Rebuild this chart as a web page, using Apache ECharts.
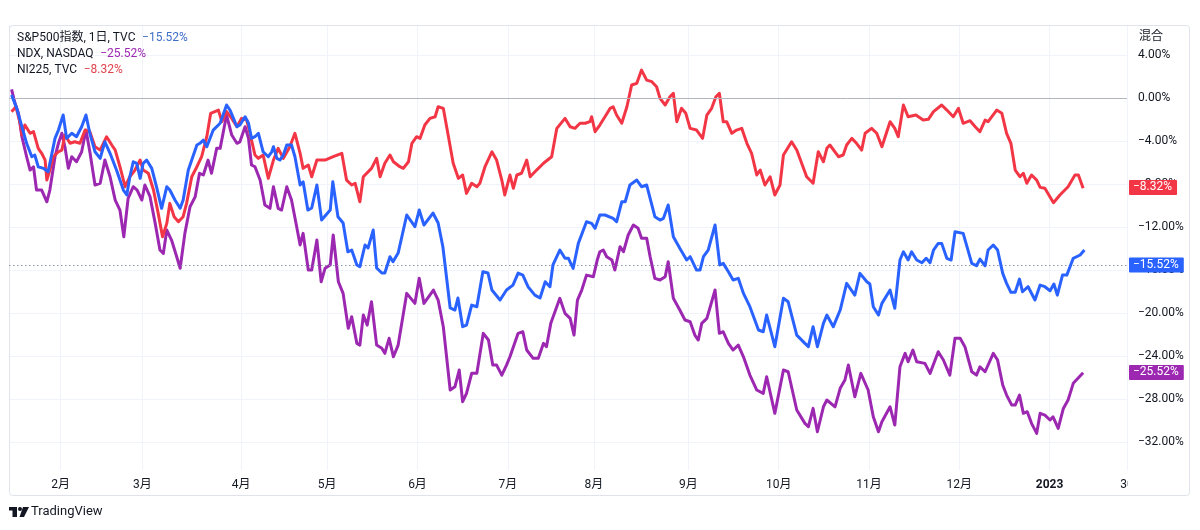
<!DOCTYPE html>
<html><head><meta charset="utf-8">
<script src="https://cdn.jsdelivr.net/npm/echarts@6/dist/echarts.min.js"></script>
<style>html,body{margin:0;padding:0;background:#fff}#c{width:1200px;height:530px}</style>
</head><body><div id="c"></div>
<script>
// x = trading-day index from start of 2022 (0..260), y = % change
const monthTicks = [12, 31, 54, 74, 95, 116, 136, 158, 179, 200, 221, 242, 260];
const monthLabels = ['2月','3月','4月','5月','6月','7月','8月','9月','10月','11月','12月','2023','30'];
const priceTicks = [4, 0, -4, -8, -12, -16, -20, -24, -28, -32];
const seriesNames = ['S&P500指数, 1日, TVC', 'NDX, NASDAQ', 'NI225, TVC'];
const lastValues = [-15.52, -25.52, -8.32];

const spx = [[0.6,0.28],[1.8,-0.96],[3.0,-2.67],[4.1,-4.21],[5.3,-5.46],[6.0,-5.30],[6.8,-6.39],[8.0,-6.54],[9.1,-6.86],[9.5,-6.70],[10.7,-3.75],[11.5,-2.98],[12.6,-1.58],[13.4,-3.75],[14.6,-3.28],[15.7,-3.60],[16.9,-2.67],[17.9,-1.58],[18.8,-3.28],[20.0,-5.00],[21.2,-5.61],[22.3,-4.07],[23.5,-5.14],[25.0,-6.70],[26.6,-8.56],[27.4,-9.02],[28.1,-7.32],[28.9,-5.93],[29.7,-6.07],[30.5,-7.47],[31.2,-6.07],[32.0,-5.77],[33.2,-6.54],[34.3,-8.25],[35.5,-10.26],[35.9,-10.42],[36.7,-8.25],[37.4,-8.56],[38.6,-9.49],[39.8,-10.26],[40.5,-9.49],[41.7,-6.70],[42.5,-5.77],[43.7,-4.37],[44.4,-4.21],[45.2,-3.91],[46.0,-4.53],[47.5,-2.98],[49.1,-2.35],[50.6,-0.65],[51.4,-1.12],[52.2,-1.89],[53.0,-2.67],[53.7,-2.51],[54.9,-1.74],[55.7,-2.35],[56.4,-3.75],[57.2,-3.60],[58.0,-3.28],[59.1,-5.00],[60.3,-5.46],[61.1,-5.00],[61.5,-4.53],[62.3,-5.61],[63.0,-5.77],[63.8,-5.30],[64.6,-4.37],[65.7,-4.37],[66.5,-5.46],[67.7,-8.09],[68.4,-7.79],[69.5,-10.42],[70.4,-10.23],[71.6,-8.09],[72.7,-11.35],[74.7,-10.42],[75.3,-7.79],[76.5,-11.04],[77.7,-11.63],[78.8,-14.30],[79.7,-14.14],[80.9,-15.53],[81.6,-15.69],[82.8,-13.67],[83.5,-13.95],[84.7,-12.28],[85.5,-15.81],[86.7,-16.28],[87.4,-16.28],[88.6,-14.76],[89.3,-15.23],[90.5,-14.42],[92.5,-10.88],[94.4,-11.97],[95.4,-10.42],[96.5,-11.81],[98.6,-10.70],[99.8,-11.63],[100.9,-13.83],[102.6,-19.53],[103.7,-19.72],[104.4,-18.60],[105.5,-21.27],[106.4,-21.12],[107.6,-19.26],[108.8,-19.41],[110.2,-16.16],[111.4,-16.28],[112.3,-17.86],[114.2,-18.79],[115.7,-17.86],[117.2,-17.40],[118.4,-16.28],[119.5,-16.47],[120.7,-17.55],[122.3,-18.33],[123.5,-18.60],[124.7,-17.09],[125.8,-17.55],[126.5,-15.53],[128.1,-14.14],[129.3,-14.91],[130.1,-14.91],[131.2,-15.84],[132.4,-13.52],[134.3,-11.51],[135.5,-11.66],[136.3,-12.12],[137.4,-10.88],[138.6,-10.88],[140.5,-11.19],[141.3,-11.51],[142.5,-9.65],[143.3,-9.65],[144.4,-8.09],[146.0,-7.63],[147.1,-8.25],[148.3,-8.09],[150.2,-11.04],[151.4,-11.35],[152.2,-11.19],[153.3,-9.95],[154.5,-12.90],[156.0,-13.98],[157.6,-15.07],[158.4,-14.76],[159.9,-16.00],[160.7,-16.00],[161.5,-14.76],[162.6,-14.14],[164.2,-11.81],[165.3,-15.53],[166.1,-15.38],[167.3,-16.16],[168.4,-16.93],[169.6,-16.77],[170.8,-18.17],[172.3,-19.41],[174.3,-21.58],[175.4,-21.74],[176.2,-20.19],[178.1,-23.13],[180.1,-18.63],[181.2,-18.95],[183.2,-22.05],[185.1,-22.82],[185.9,-23.13],[187.0,-21.27],[188.0,-23.13],[189.4,-20.96],[190.2,-20.19],[191.7,-21.27],[193.3,-19.72],[194.8,-17.24],[196.7,-18.33],[197.9,-16.31],[199.5,-17.09],[200.2,-17.30],[201.0,-19.41],[202.2,-20.19],[203.0,-19.10],[204.9,-17.86],[206.0,-19.56],[207.2,-15.07],[208.0,-14.30],[209.1,-15.07],[209.9,-14.30],[211.1,-15.07],[212.3,-15.32],[213.3,-14.91],[214.2,-15.32],[215.0,-14.14],[216.1,-13.52],[216.9,-13.52],[218.1,-14.91],[219.1,-15.07],[220.0,-12.44],[221.9,-12.59],[223.9,-15.38],[225.0,-15.60],[225.8,-14.98],[227.0,-15.60],[227.7,-14.14],[228.9,-13.67],[229.9,-14.14],[231.1,-16.31],[232.0,-17.24],[233.0,-18.07],[234.0,-18.07],[235.0,-16.84],[235.7,-18.02],[237.0,-17.55],[238.6,-18.79],[239.8,-17.40],[240.9,-17.55],[242.1,-17.93],[243.0,-17.30],[243.8,-18.33],[245.0,-16.47],[246.0,-16.47],[247.5,-14.91],[249.1,-14.60],[250.1,-14.14]];

const ndx = [[0.6,0.81],[1.4,-0.49],[2.2,-1.42],[3.0,-3.60],[4.1,-5.46],[4.9,-6.70],[5.7,-6.39],[6.4,-8.56],[7.6,-8.56],[8.8,-9.65],[9.5,-8.56],[10.7,-5.46],[11.5,-4.21],[12.3,-3.28],[13.0,-4.53],[13.8,-6.54],[14.6,-5.46],[15.7,-5.93],[16.9,-5.00],[17.9,-2.98],[18.8,-5.00],[20.0,-8.09],[21.2,-7.93],[22.3,-5.77],[23.5,-7.32],[24.7,-9.49],[25.8,-10.42],[26.7,-12.90],[27.7,-9.33],[28.9,-8.25],[29.8,-8.56],[30.9,-9.49],[31.6,-8.09],[32.8,-9.18],[34.0,-11.66],[35.1,-14.14],[35.9,-14.45],[36.7,-12.28],[37.8,-13.21],[39.0,-14.76],[39.8,-15.84],[40.9,-12.59],[42.1,-10.11],[43.3,-9.18],[44.3,-7.00],[45.2,-7.16],[46.3,-5.77],[47.1,-7.00],[48.3,-4.68],[49.1,-4.68],[50.6,-1.58],[51.8,-3.44],[53.0,-4.21],[53.7,-4.07],[54.9,-2.67],[55.7,-3.75],[56.4,-6.23],[57.2,-6.39],[58.4,-7.63],[59.5,-9.95],[60.7,-10.26],[61.5,-8.25],[62.6,-10.26],[63.4,-10.42],[64.6,-8.25],[65.7,-9.49],[66.9,-11.97],[67.7,-13.67],[68.4,-12.59],[69.6,-16.00],[70.4,-16.00],[71.6,-13.21],[72.6,-17.09],[73.5,-15.84],[74.7,-15.53],[75.4,-12.74],[76.6,-17.09],[77.7,-18.17],[78.9,-21.42],[79.7,-20.34],[80.9,-22.82],[81.6,-22.98],[82.4,-20.19],[83.3,-21.12],[84.3,-18.95],[85.5,-22.98],[86.7,-23.28],[87.4,-23.75],[88.4,-22.35],[89.4,-24.07],[90.5,-22.98],[92.5,-18.17],[94.4,-19.10],[95.4,-16.77],[96.5,-19.10],[98.7,-17.86],[99.8,-18.79],[101.0,-21.27],[102.6,-27.16],[103.7,-26.86],[104.7,-25.30],[105.5,-28.25],[106.4,-27.47],[107.6,-25.61],[108.8,-25.61],[110.3,-21.89],[111.5,-22.51],[112.5,-24.84],[113.4,-24.84],[114.6,-25.77],[115.7,-24.84],[116.5,-24.07],[118.4,-21.89],[119.5,-21.74],[120.4,-23.44],[121.9,-24.21],[123.1,-24.21],[124.3,-22.82],[125.0,-23.13],[126.0,-20.96],[128.1,-18.63],[129.3,-20.03],[130.5,-20.49],[131.4,-22.05],[132.2,-18.79],[133.2,-17.86],[134.3,-16.47],[135.9,-16.62],[136.8,-15.07],[137.4,-14.30],[138.2,-14.14],[139.0,-14.76],[140.2,-15.07],[140.9,-16.00],[142.1,-13.83],[142.9,-14.30],[144.0,-12.74],[145.2,-11.81],[146.3,-12.12],[147.1,-13.05],[148.3,-13.05],[149.1,-14.76],[150.2,-16.77],[151.4,-16.93],[152.6,-16.62],[153.3,-15.23],[154.5,-18.63],[156.0,-19.72],[157.2,-20.65],[158.4,-20.81],[159.5,-22.05],[160.3,-22.51],[161.1,-20.96],[162.3,-20.49],[164.2,-17.86],[165.2,-21.89],[166.1,-21.74],[167.3,-22.82],[168.4,-23.44],[169.6,-22.98],[170.8,-24.07],[172.3,-25.77],[173.9,-27.16],[175.4,-27.47],[176.2,-25.93],[178.1,-29.33],[180.1,-25.30],[181.2,-25.46],[183.2,-29.02],[185.1,-30.26],[185.9,-30.58],[187.0,-28.87],[188.0,-31.04],[189.4,-28.72],[190.2,-28.09],[192.1,-28.72],[193.3,-27.00],[194.4,-26.23],[195.2,-24.84],[196.7,-27.79],[198.1,-25.61],[199.8,-27.16],[201.0,-29.65],[202.2,-31.04],[203.0,-30.11],[204.9,-28.72],[206.0,-30.42],[207.2,-25.00],[208.4,-23.75],[209.1,-24.53],[210.2,-23.44],[211.1,-24.53],[213.0,-24.68],[214.2,-25.61],[216.1,-23.60],[217.3,-24.37],[218.8,-25.77],[220.0,-22.35],[221.2,-22.35],[222.3,-23.13],[223.9,-25.46],[225.0,-25.77],[225.8,-25.00],[227.0,-25.46],[228.9,-23.75],[229.9,-24.37],[231.1,-26.70],[232.0,-27.63],[233.2,-28.56],[234.0,-28.56],[235.0,-27.63],[235.9,-29.33],[236.8,-29.18],[237.8,-30.26],[239.0,-31.19],[239.8,-29.33],[240.9,-29.49],[242.1,-29.95],[242.8,-29.65],[244.0,-30.73],[245.2,-28.87],[246.3,-28.09],[247.5,-26.54],[249.8,-25.55]];

const ni225 = [[0.6,-1.27],[1.6,-0.81],[2.6,-2.35],[3.0,-3.44],[3.7,-2.51],[4.9,-3.28],[5.7,-3.13],[6.8,-4.68],[7.6,-5.14],[8.4,-5.77],[8.8,-7.63],[9.5,-6.70],[10.3,-5.46],[11.5,-5.00],[12.3,-4.84],[13.0,-3.44],[14.2,-4.21],[15.3,-4.07],[16.5,-4.21],[17.7,-2.98],[18.8,-3.13],[20.0,-4.53],[21.2,-4.84],[22.7,-3.60],[23.9,-4.37],[24.7,-4.84],[25.8,-6.39],[27.0,-8.25],[28.1,-7.32],[29.3,-6.70],[30.5,-5.77],[31.2,-6.70],[32.4,-7.00],[33.6,-8.56],[34.7,-10.73],[35.7,-12.90],[36.7,-11.66],[37.4,-9.80],[38.4,-11.04],[39.4,-11.51],[40.5,-11.04],[41.3,-9.80],[42.5,-7.32],[43.7,-6.39],[44.8,-5.46],[46.0,-3.60],[46.9,-1.42],[48.7,-1.12],[49.5,-2.20],[50.6,-1.27],[51.8,-1.89],[53.0,-2.67],[54.1,-1.89],[55.3,-2.05],[56.4,-3.91],[57.2,-5.30],[58.0,-5.61],[59.1,-5.30],[60.3,-7.47],[61.5,-5.77],[62.6,-4.68],[63.8,-5.61],[65.3,-4.53],[66.5,-3.28],[67.7,-5.14],[68.4,-6.54],[69.6,-6.23],[70.4,-7.32],[71.6,-5.77],[73.5,-5.77],[75.4,-5.46],[77.4,-5.14],[78.5,-7.63],[79.7,-8.09],[80.5,-7.93],[81.6,-9.65],[82.4,-7.32],[84.3,-6.54],[85.5,-5.61],[86.3,-7.32],[87.4,-6.07],[88.6,-5.30],[89.4,-5.93],[90.9,-6.39],[91.7,-6.54],[92.9,-5.93],[93.7,-4.21],[94.8,-3.60],[95.6,-3.75],[96.7,-2.51],[97.9,-1.89],[99.1,-1.74],[99.8,-0.81],[101.0,-0.96],[102.2,-3.60],[103.3,-6.07],[104.5,-7.47],[105.5,-7.16],[106.4,-8.87],[107.6,-7.93],[108.8,-8.25],[109.5,-7.93],[110.7,-6.39],[112.3,-5.00],[113.4,-5.77],[114.6,-7.63],[115.3,-9.02],[116.5,-7.16],[117.3,-8.40],[118.1,-7.16],[119.2,-7.00],[120.4,-5.77],[121.2,-7.32],[122.7,-6.70],[124.3,-6.07],[126.2,-5.46],[127.4,-2.82],[129.3,-1.89],[130.5,-2.67],[131.6,-2.82],[132.8,-2.35],[134.0,-2.35],[135.1,-2.20],[135.5,-1.74],[136.3,-3.13],[137.4,-2.51],[138.6,-1.74],[139.8,-0.96],[140.5,-0.81],[141.3,-1.58],[142.5,-2.35],[143.7,-0.81],[144.8,1.21],[146.0,1.37],[147.1,2.60],[148.3,1.67],[149.5,1.52],[150.6,1.05],[151.4,-0.03],[152.6,-0.65],[153.7,0.12],[154.5,0.44],[155.3,-2.20],[156.4,-0.96],[157.4,-1.42],[158.4,-2.82],[159.9,-2.98],[161.3,-3.75],[162.3,-1.58],[163.4,-0.96],[164.4,0.12],[165.2,0.44],[166.1,-2.20],[166.9,-2.20],[168.1,-3.28],[169.2,-2.98],[170.4,-2.82],[171.6,-4.21],[172.7,-5.14],[173.9,-7.16],[174.7,-6.70],[175.8,-8.09],[177.0,-7.32],[178.1,-9.02],[179.3,-8.09],[180.1,-5.30],[182.0,-4.07],[183.2,-4.84],[185.5,-7.32],[187.0,-7.93],[188.2,-5.00],[189.4,-5.93],[190.2,-4.68],[190.9,-4.37],[192.9,-5.46],[194.0,-5.30],[194.8,-4.37],[196.0,-3.75],[197.1,-4.21],[198.3,-4.84],[199.1,-3.28],[200.6,-2.82],[201.8,-3.28],[203.0,-4.53],[204.9,-2.20],[206.0,-2.82],[206.8,-3.60],[208.0,-0.65],[209.1,-1.74],[210.9,-1.58],[212.6,-2.05],[213.8,-1.98],[215.0,-1.27],[216.9,-0.65],[218.1,-1.12],[219.6,-1.74],[220.8,-0.96],[221.9,-2.35],[223.5,-2.11],[224.7,-2.67],[225.8,-3.13],[227.0,-2.05],[227.7,-2.20],[229.7,-1.12],[230.9,-1.42],[232.0,-3.28],[233.0,-4.21],[234.0,-6.70],[235.1,-7.32],[235.9,-7.00],[236.7,-7.93],[237.8,-7.16],[239.0,-7.63],[239.8,-8.31],[240.9,-8.40],[242.9,-9.74],[244.4,-9.02],[246.3,-8.25],[247.9,-7.16],[248.7,-7.16],[249.8,-8.40]];

const colors = ['#2962ff', '#9c27b0', '#f23645'];
const FONT = 'Roboto, "Noto Sans CJK JP", sans-serif';
const fmtPct = v => (v < 0 ? '\u2212' : '') + Math.abs(v).toFixed(2) + '%';

const chart = echarts.init(document.getElementById('c'), null, {renderer: 'canvas'});

function badgeItem(val, color, lineStyle) {
  return {
    yAxis: val, lineStyle: lineStyle,
    label: {
      show: true, position: 'end', distance: 2, formatter: () => fmtPct(val),
      backgroundColor: color, color: '#fff', padding: [2, 5, 1, 4],
      fontFamily: FONT, fontSize: 12, borderRadius: 1, opacity: 1
    }
  };
}
const hiddenLine = {color: 'rgba(0,0,0,0)', width: 1, type: 'solid'};

const datasets = [spx, ndx, ni225];
const markData = [
  [badgeItem(lastValues[0], colors[0], {color: '#8a98ad', type: [1.5, 2.5], width: 1})],
  [{yAxis: 0, lineStyle: {color: '#b2b5be', width: 1, type: 'solid'}, label: {show: false}},
   badgeItem(lastValues[1], colors[1], hiddenLine)],
  [badgeItem(lastValues[2], colors[2], hiddenLine)]
];
const zOrder = [5, 3, 4];
const seriesList = [1, 2, 0].map(i => ({
  name: seriesNames[i], type: 'line', data: datasets[i], showSymbol: false, symbol: 'none',
  clip: false, animation: false, z: zOrder[i],
  lineStyle: {color: colors[i], width: 3, join: 'round'},
  markLine: {silent: true, symbol: ['none', 'none'], animation: false, data: markData[i]}
}));

chart.setOption({
  animation: false,
  backgroundColor: '#ffffff',
  textStyle: {fontFamily: FONT},
  grid: {left: 9, right: 73, top: 26, bottom: 60, containLabel: false},
  xAxis: {
    type: 'value', min: 0, max: 260,
    axisLine: {show: false}, axisTick: {show: false, customValues: monthTicks},
    axisLabel: {
      customValues: monthTicks, margin: 9, color: '#131722', fontSize: 12, fontFamily: FONT,
      formatter: v => { const k = monthTicks.indexOf(Math.round(v)); const s = k >= 0 ? monthLabels[k] : ''; return s === '2023' ? '{b|2023}' : s; },
      rich: {b: {fontWeight: 'bold', fontSize: 12, color: '#131722', fontFamily: FONT}}
    },
    splitLine: {show: true, lineStyle: {color: '#f0f3fa', width: 1}}
  },
  yAxis: {
    type: 'value', position: 'right', min: -34.6, max: 6.7,
    axisLine: {show: true, lineStyle: {color: '#e0e3eb'}},
    axisTick: {show: false, customValues: priceTicks},
    axisLabel: {customValues: priceTicks, margin: 11, color: '#131722', fontSize: 12, fontFamily: FONT, formatter: v => fmtPct(v)},
    splitLine: {show: true, lineStyle: {color: '#f0f3fa', width: 1}}
  },
  series: seriesList,
  graphic: [
    {type: 'rect', z: -10, silent: true, shape: {x: 9.5, y: 25.5, width: 1180, height: 470, r: 3},
     style: {fill: 'none', stroke: '#e0e3eb', lineWidth: 1}},
    {type: 'rect', z: 100, silent: true, shape: {x: 1128, y: 474, width: 60, height: 18}, style: {fill: '#fff'}},
    {type: 'text', z: 100, left: 1139, top: 31, style: {text: '混合', fill: '#131722', font: '12px ' + FONT}},
    {type: 'text', z: 100, left: 17, top: 32, style: {
      text: seriesNames.map((n, i) => '{n|' + n + '}  {v' + i + '|' + fmtPct(lastValues[i]) + '}').join('\n'),
      rich: {
        n: {fill: '#131722', fontSize: 12, fontFamily: FONT, lineHeight: 16},
        v0: {fill: '#3f6fc6', fontSize: 12, fontFamily: FONT, lineHeight: 16},
        v1: {fill: '#9c27b0', fontSize: 12, fontFamily: FONT, lineHeight: 16},
        v2: {fill: '#e0434c', fontSize: 12, fontFamily: FONT, lineHeight: 16}
      }}},
    // TradingView logo
    {type: 'group', left: 9, top: 507, z: 100, children: [
      {type: 'rect', shape: {x: 0, y: 0, width: 8, height: 3.5}, style: {fill: '#131722'}},
      {type: 'rect', shape: {x: 3.5, y: 0, width: 4.5, height: 10}, style: {fill: '#131722'}},
      {type: 'circle', shape: {cx: 11, cy: 2, r: 2}, style: {fill: '#131722'}},
      {type: 'polygon', shape: {points: [[14, 0], [20, 0], [15, 10], [10.5, 10]]}, style: {fill: '#131722'}}
    ]},
    {type: 'text', z: 100, left: 31, top: 505, style: {text: 'TradingView', fill: '#131722', font: '13px ' + FONT}}
  ]
});
</script>
</body></html>
